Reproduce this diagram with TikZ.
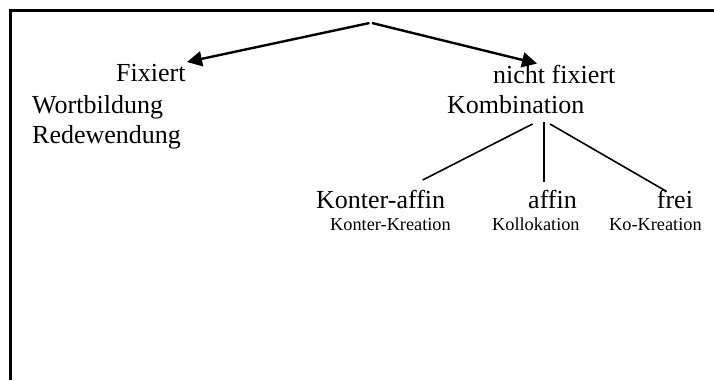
\documentclass[tikz,border=0pt]{standalone}
\usepackage{fontspec}
\setmainfont{Liberation Serif}
\usetikzlibrary{arrows.meta}

\begin{document}
\begin{tikzpicture}[x=1pt,y=-1pt,
  big/.style={inner sep=0pt,anchor=base west,font=\fontsize{26}{30}\selectfont},
  small/.style={inner sep=0pt,anchor=base west,font=\fontsize{18.3}{21}\selectfont},
  arrowline/.style={line width=2.4pt,-{Triangle[length=15pt,width=15pt]}},
  branch/.style={line width=1.6pt}]
\useasboundingbox (0,0) rectangle (714,380);

% open frame: left and top sides
\draw[line width=2.2pt] (10.5,380) -- (10.5,10.5) -- (714,10.5);

% top split
\coordinate (topL) at (369.5,23);
\coordinate (topR) at (372,23);

% left branch
\node[big] (fix)  at (116,81.7)  {Fixiert};
\node[big] (wort) at (32,113.3)  {Wortbildung};
\node[big] (rede) at (32,143.3)  {Redewendung};

% right branch
\node[big] (nfix) at (493,83)    {nicht fixiert};
\node[big] (komb) at (447,113.3) {Kombination};

% leaves
\node[big] (kaff) at (316,208)   {Konter-affin};
\node[big] (aff)  at (528,208)   {affin};
\node[big] (frei) at (656.7,208) {frei};
\node[small] (kk)   at (330,230.7) {Konter-Kreation};
\node[small] (koll) at (492,230.7) {Kollokation};
\node[small] (kok)  at (609,230.7) {Ko-Kreation};

% arrow endpoints just above the headings
\coordinate (fixTip)  at (187,62);
\coordinate (nfixTip) at (537,63.5);
\draw[arrowline] (topL) -- (fixTip);
\draw[arrowline] (topR) -- (nfixTip);

% branches from "Kombination"
\coordinate (kombL) at (532.5,124);
\coordinate (kombM) at (544,121.5);
\coordinate (kombR) at (550,124);
\coordinate (kaffTop) at (422.7,180);
\coordinate (affTop)  at (544,182);
\coordinate (freiTop) at (666.7,191.5);
\draw[branch] (kombL) -- (kaffTop);
\draw[branch] (kombM) -- (affTop);
\draw[branch] (kombR) -- (freiTop);
\end{tikzpicture}
\end{document}
